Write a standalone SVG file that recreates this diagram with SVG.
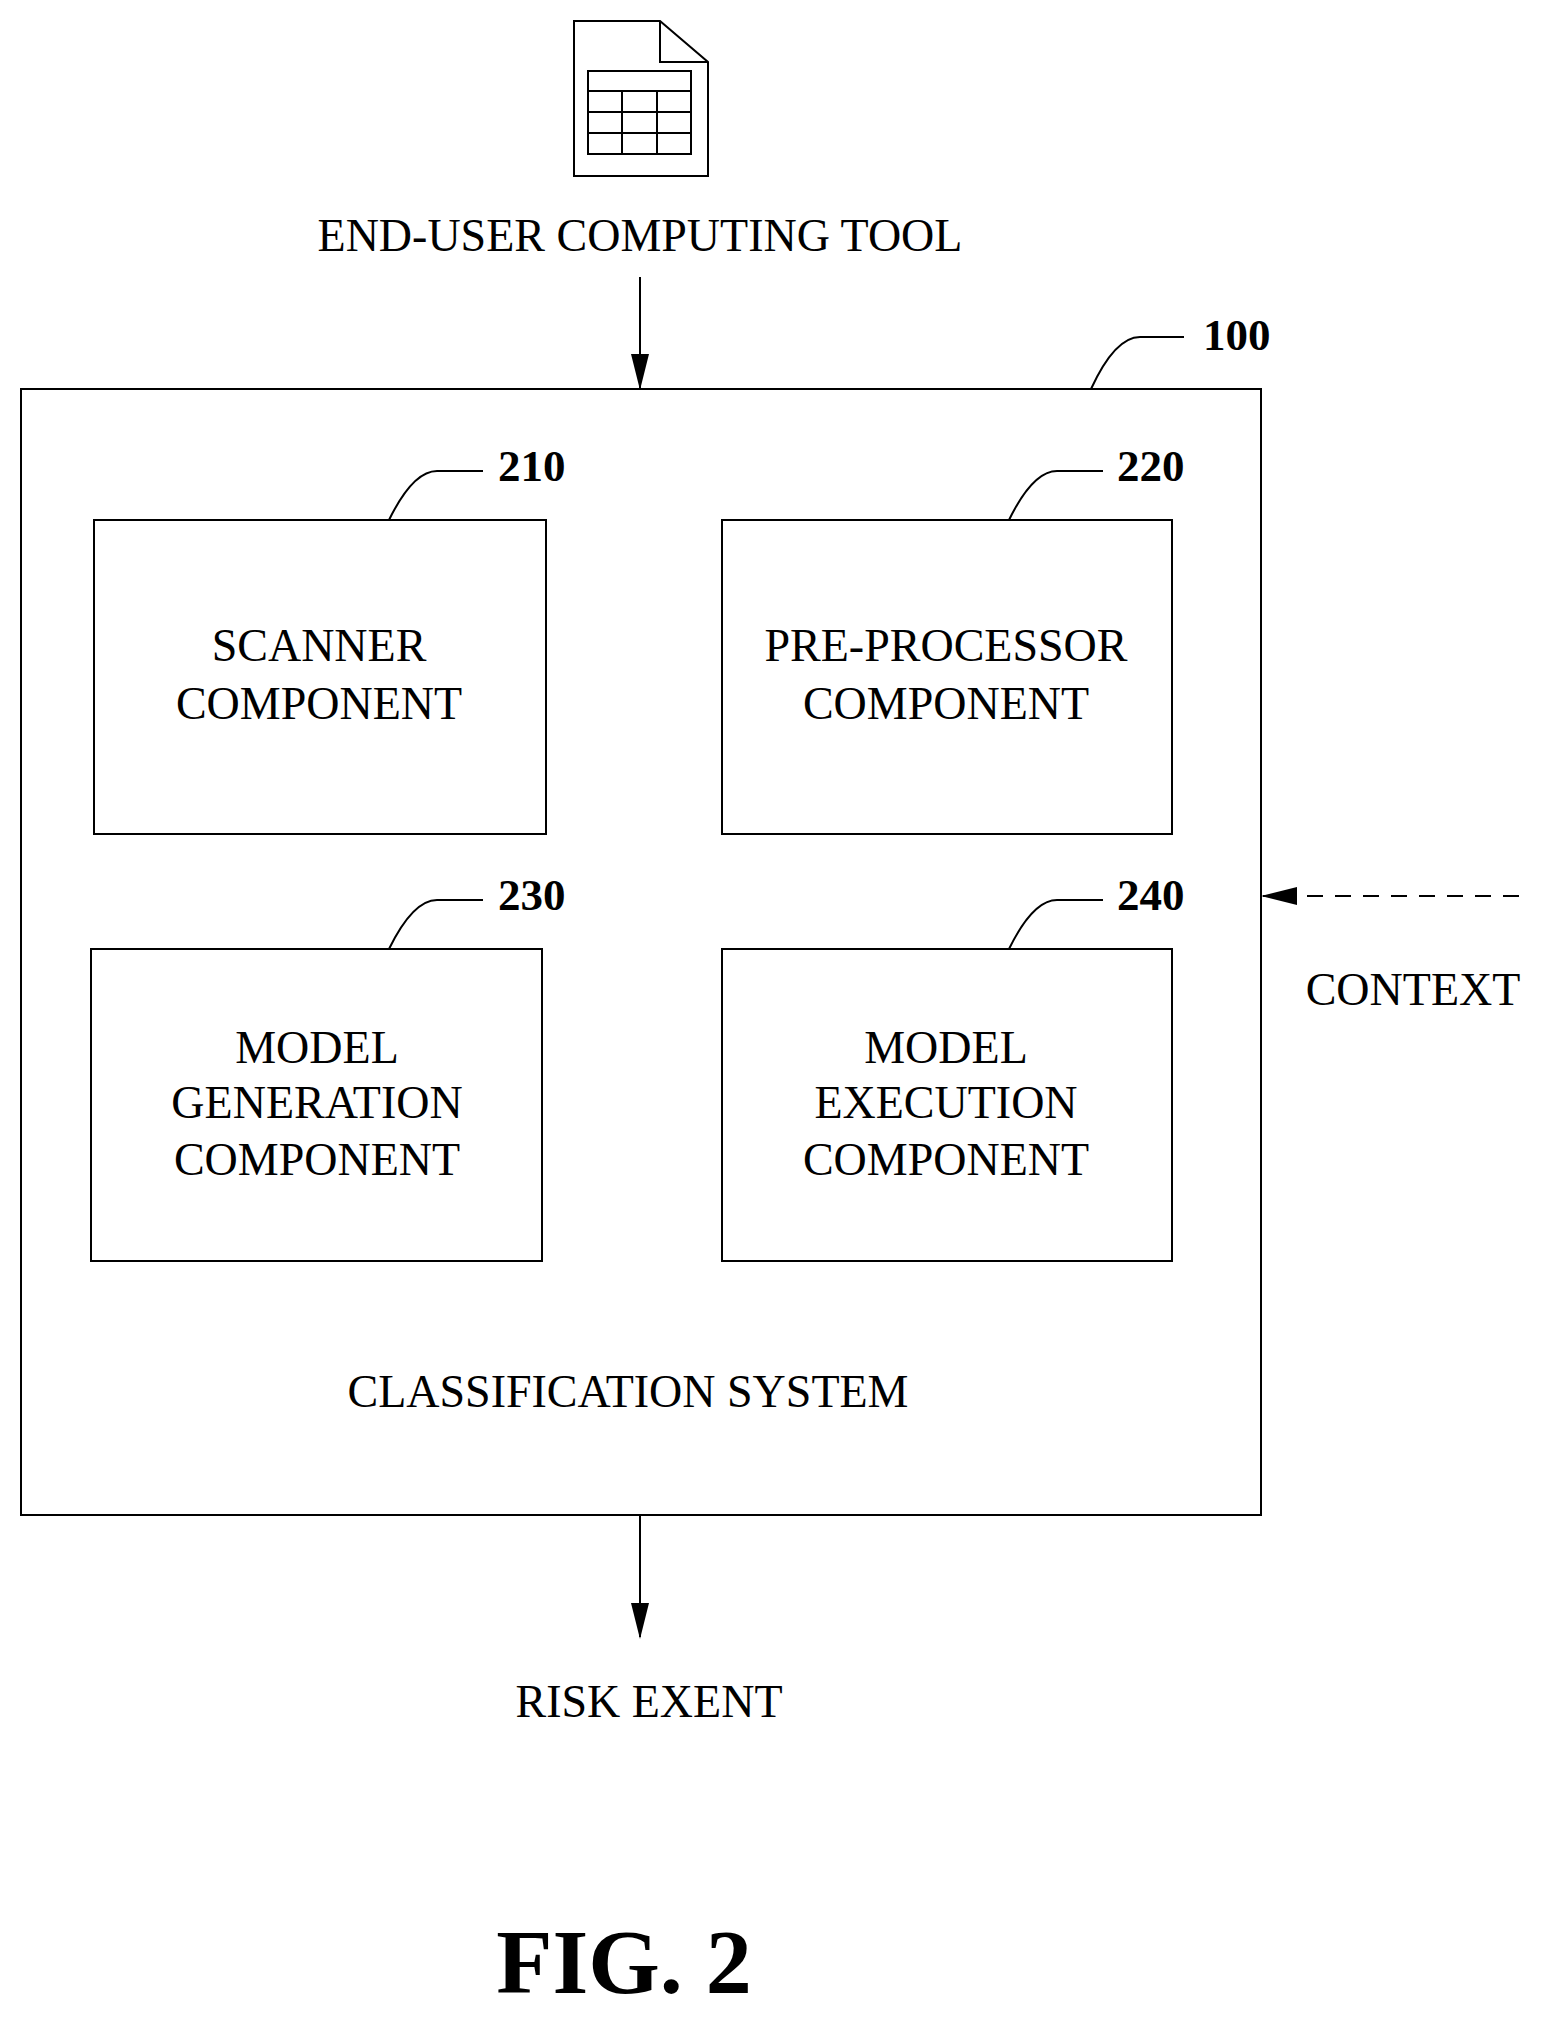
<svg xmlns="http://www.w3.org/2000/svg" width="1544" height="2019" viewBox="0 0 1544 2019">
<defs>
<style>
.t{font-family:"Liberation Serif","Times New Roman",serif;font-size:46px;fill:#000;text-anchor:middle}
.n{font-family:"Liberation Serif","Times New Roman",serif;font-size:45px;font-weight:bold;fill:#000}
.b{fill:#fff;stroke:#000;stroke-width:2}
.l{fill:none;stroke:#000;stroke-width:2}
</style>
<marker id="ah" markerWidth="36" markerHeight="18" refX="34" refY="9" viewBox="0 0 36 18" orient="auto" markerUnits="userSpaceOnUse"><path d="M0,0 L36,9 L0,18 Z" fill="#000"/></marker>
</defs>
<rect width="1544" height="2019" fill="#fff"/>
<g id="tool">
<path class="b" d="M574,21 H660 L708,62 V176 H574 Z"/>
<path class="l" d="M660,21 V62 H708"/>
<rect class="b" x="588" y="71" width="103" height="83" stroke-width="3"/>
<path class="l" stroke-width="3" d="M588,91 H691 M588,112 H691 M588,133 H691 M622,91 V154 M657,91 V154"/>
<text class="t" x="640" y="251">END-USER COMPUTING TOOL</text>
</g>
<g id="system">
<rect class="b" x="21" y="389" width="1240" height="1126"/>
<path class="l" d="M1091,389 Q1115,337 1140,337 H1184"/>
<text class="n" x="1203" y="350">100</text>
<text class="t" x="628" y="1407">CLASSIFICATION SYSTEM</text>
</g>
<g id="n210">
<rect class="b" x="94" y="520" width="452" height="314"/>
<path class="l" d="M389,520 Q413,471 437,471 H483"/>
<text class="n" x="498" y="481">210</text>
<text class="t" x="319" y="661">SCANNER</text>
<text class="t" x="319" y="719">COMPONENT</text>
</g>
<g id="n220">
<rect class="b" x="722" y="520" width="450" height="314"/>
<path class="l" d="M1009,520 Q1033,471 1057,471 H1103"/>
<text class="n" x="1117" y="481">220</text>
<text class="t" x="946" y="661">PRE-PROCESSOR</text>
<text class="t" x="946" y="719">COMPONENT</text>
</g>
<g id="n230">
<rect class="b" x="91" y="949" width="451" height="312"/>
<path class="l" d="M389,949 Q413,900 437,900 H483"/>
<text class="n" x="498" y="910">230</text>
<text class="t" x="317" y="1063">MODEL</text>
<text class="t" x="317" y="1118">GENERATION</text>
<text class="t" x="317" y="1175">COMPONENT</text>
</g>
<g id="n240">
<rect class="b" x="722" y="949" width="450" height="312"/>
<path class="l" d="M1009,949 Q1033,900 1057,900 H1103"/>
<text class="n" x="1117" y="910">240</text>
<text class="t" x="946" y="1063">MODEL</text>
<text class="t" x="946" y="1118">EXECUTION</text>
<text class="t" x="946" y="1175">COMPONENT</text>
</g>
<g id="connectors">
<line class="l" x1="640" y1="277" x2="640" y2="388" marker-end="url(#ah)"/>
<line class="l" x1="1519" y1="896" x2="1263" y2="896" stroke-dasharray="16,12" marker-end="url(#ah)"/>
<line class="l" x1="640" y1="1515" x2="640" y2="1637" marker-end="url(#ah)"/>
</g>
<g id="labels">
<text class="t" x="1413" y="1005">CONTEXT</text>
<text class="t" x="649" y="1717">RISK EXENT</text>
<text class="t" x="624" y="1993" style="font-size:92px;font-weight:bold">FIG. 2</text>
</g>
</svg>
